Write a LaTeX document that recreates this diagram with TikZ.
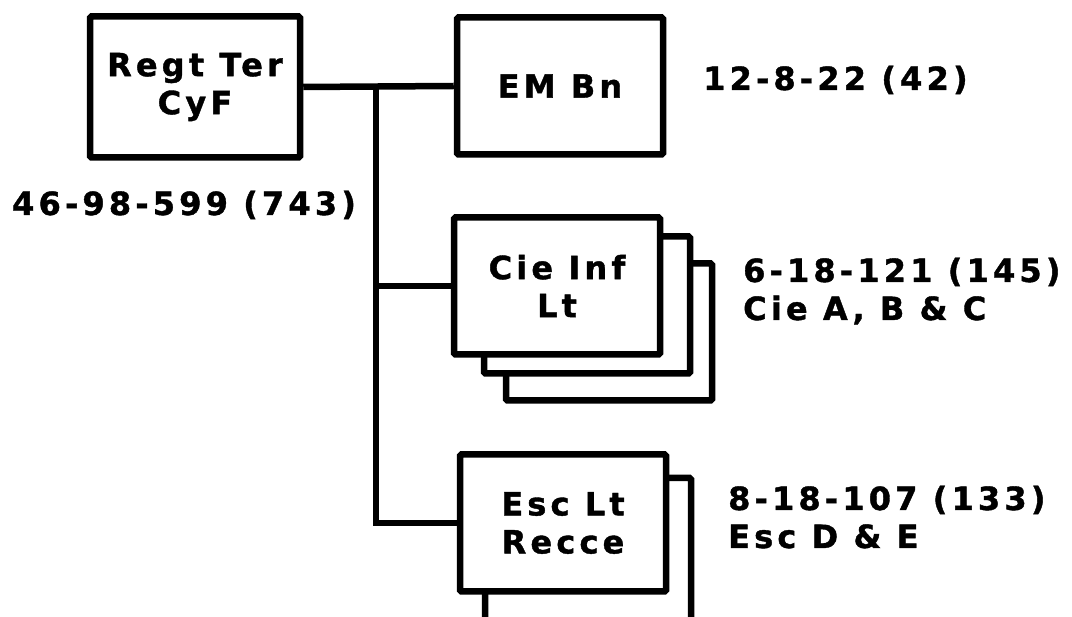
\documentclass[tikz,border=0pt]{standalone}
\usepackage{fontspec}
\setmainfont{DejaVu Sans}[LetterSpace=13, BoldFeatures={FakeBold=1.2}]
\begin{document}
\begin{tikzpicture}[x=1pt,y=-1pt,
  every node/.style={font=\fontsize{32}{38}\selectfont\bfseries},
  unitbox/.style={draw=black, line width=6.5pt, fill=white, rounded corners=1.5pt,
    minimum width=206pt, minimum height=137pt, inner sep=0pt, align=center},
  link/.style={draw=black, line width=6.5pt},
  info/.style={anchor=base west, inner sep=0pt, align=left}]
\useasboundingbox (0,0) rectangle (1072,617);
\clip (0,0) rectangle (1072,617);
% boxes
\node[unitbox, minimum width=210pt, minimum height=141pt] (regt) at (195,87) {Regt Ter\\CyF};
\node[unitbox] (em) at (560,86) {EM Bn};
% Cie stack
\node[unitbox] (cie3) at (609,332) {};
\node[unitbox] (cie2) at (587,305) {};
\node[unitbox] (cie) at (557,286) {Cie Inf\\Lt};
% Esc stack
\node[unitbox, minimum height=180pt] (esc2) at (588,568) {};
\node[unitbox] (esc) at (563,523) {Esc Lt\\Recce};
% connectors
\coordinate (j) at (376,87);
\draw[link] (regt.east) -- (em.west);
\draw[link] (j) |- (cie.west);
\draw[link] (j) |- (esc.west);
% labels
\node[info] (lregt) at (12,215) {46-98-599 (743)};
\node[info] (lem) at (703,90) {12-8-22 (42)};
\node[info] (lcie) at (743,320) {6-18-121 (145)\\Cie A, B \& C};
\node[info] (lesc) at (728,548) {8-18-107 (133)\\Esc D \& E};
\end{tikzpicture}
\end{document}
